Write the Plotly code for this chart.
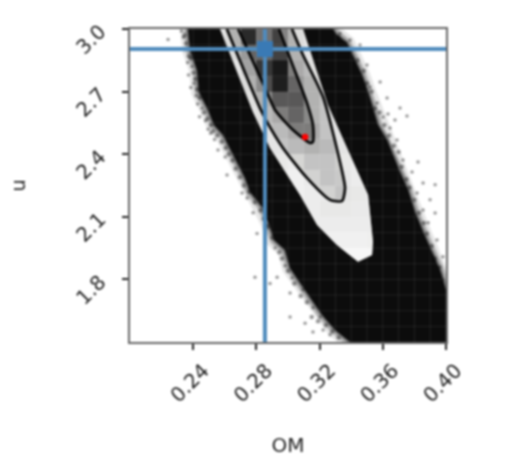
import numpy as np
import plotly.graph_objects as go

# posterior histogram, density per bin, top row first (None = no visible cell)
hist_rows = [
    [None, None, None, None, None, .30, .40, .80, .50, .70, .40, .30, None, None, None, None, None, None, None, None],
    [None, None, None, None, None, .30, .40, .55, .55, .70, .40, .30, None, None, None, None, None, None, None, None],
    [None, None, None, None, None, .30, .30, .50, .75, .87, .45, .35, .30, None, None, None, None, None, None, None],
    [None, None, None, None, None, None, .30, .40, .65, .85, .55, .40, .30, None, None, None, None, None, None, None],
    [None, None, None, None, None, None, .30, .35, .40, .60, .60, .40, .30, .30, None, None, None, None, None, None],
    [None, None, None, None, None, None, None, .30, .35, .45, .55, .40, .30, .30, None, None, None, None, None, None],
    [None, None, None, None, None, None, None, .30, .30, .35, .45, .45, .30, .30, .25, None, None, None, None, None],
    [None, None, None, None, None, None, None, .30, .30, .30, .35, .40, .35, .30, .25, None, None, None, None, None],
    [None, None, None, None, None, None, None, None, .25, .25, .20, .30, .30, .25, .20, None, None, None, None, None],
    [None, None, None, None, None, None, None, None, .20, .20, .15, .22, .30, .27, .20, .20, None, None, None, None],
    [None, None, None, None, None, None, None, None, None, .15, .15, .20, .22, .30, .25, .20, None, None, None, None],
    [None, None, None, None, None, None, None, None, None, None, .20, .20, .25, .25, .22, .22, None, None, None, None],
    [None, None, None, None, None, None, None, None, None, None, .20, .20, .20, .20, .20, .20, None, None, None, None],
    [None, None, None, None, None, None, None, None, None, None, None, .18, .15, .15, .15, .17, None, None, None, None],
    [None, None, None, None, None, None, None, None, None, None, None, None, .10, .08, .08, .08, None, None, None, None],
    [None] * 20, [None] * 20, [None] * 20, [None] * 20, [None] * 20,
]

# contour levels, going down the left side, round the tip and up the right side
outer_om = [.2570, .2778, .2886, .3076, .3184, .3310, .3443, .3532, .3538, .3507, .3374, .3253, .3095]
outer_u = [3.0, 2.602, 2.43, 2.205, 2.061, 1.965, 1.884, 1.917, 1.98, 2.205, 2.43, 2.636, 3.0]
mid_om = [.2613, .2822, .2867, .2968, .3120, .3266, .3342, .3361, .3329, .3222, .3095, .3025]
mid_u = [3.0, 2.622, 2.555, 2.43, 2.286, 2.181, 2.176, 2.238, 2.363, 2.674, 2.875, 3.0]
inner_om = [.2684, .2855, .2918, .3032, .3139, .3158, .3158, .3120, .3029, .2943]
inner_u = [3.0, 2.717, 2.612, 2.516, 2.454, 2.46, 2.54, 2.646, 2.828, 3.0]

# solid part of the sample cloud: left edge, then right edge from the bottom up
left_om = [.2367, .2380, .2424, .2437, .2494, .2532, .2589, .2639, .2684, .2728, .2760,
           .2836, .2874, .2912, .2981, .3013, .3063, .3139, .3215, .3298, .3393]
left_u = [3.0, 2.899, 2.804, 2.698, 2.612, 2.54, 2.492, 2.42, 2.349, 2.286, 2.219,
          2.147, 2.076, 1.989, 1.941, 1.855, 1.798, 1.711, 1.63, 1.558, 1.5]
right_om = [.40, .3962, .3899, .3855, .3804, .3760, .3709, .3665, .3627, .3570, .3538,
            .3507, .3469, .3424, .3374, .3304, .3285]
right_u = [1.75, 1.846, 1.951, 2.028, 2.123, 2.229, 2.315, 2.396, 2.468, 2.54, 2.622,
           2.698, 2.78, 2.852, 2.933, 2.976, 3.0]
corner_om = [.40]
corner_u = [1.5]

# loose samples around the cloud
sample_om = [.2241, .2325, .2338, .2347, .2365, .2392, .2370, .2405, .2385, .2418, .2428, .2455, .2440, .2478,
             .2495, .2510, .2535, .2557, .2602, .2614, .2709, .2741, .2779, .2804, .2791, .2867, .2918, .2931,
             .2886, .2981, .3013, .3013, .3025, .3095, .3108, .3158, .3222, .3158, .3203, .3266,
             .3329, .3393, .3456, .3500, .3519, .3583, .3564, .3627, .3602, .3633, .3709, .3753, .3677, .3646,
             .3690, .3728, .3785, .3823, .3855, .3931, .3855, .3931, .3887, .3943, .3981, .3981, .3975, .3817,
             .3899, .3836, .3962]
sample_u = [2.95, 2.99, 2.96, 2.90, 2.84, 2.82, 2.78, 2.74, 2.72, 2.68, 2.64, 2.62, 2.58, 2.56,
            2.52, 2.50, 2.47, 2.42, 2.387, 2.30, 2.214, 2.19, 2.12, 2.02, 1.81, 2.06, 1.95, 1.81,
            1.78, 1.865, 1.735, 1.62, 1.807, 1.75, 1.59, 1.548, 1.558, 1.664, 1.62, 1.535,
            2.98, 2.947, 2.923, 2.828, 2.722, 2.746, 2.645, 2.669, 2.578, 2.593, 2.622, 2.583, 2.564, 2.526,
            2.468, 2.372, 2.315, 2.363, 2.262, 2.253, 2.133, 2.118, 2.071, 1.989, 1.908, 1.798, 1.62, 2.214,
            2.182, 2.037, 1.86]

# samples crowding the edge of the cloud
edge_om = [.2345, .2355, .2372, .2385, .2402, .2412, .2425, .2440, .2468, .2490, .2512, .2525, .2552, .2580,
           .2605, .2625, .2648, .2668, .2695, .2720, .2755, .2790, .2825, .2845, .2870, .2900, .2945, .2962,
           .3000, .3040, .3080, .3120, .3150, .3190, .3240, .3280, .3320,
           .3320, .3360, .3400, .3440, .3480, .3500, .3530, .3550, .3580, .3610, .3640, .3670, .3700, .3720,
           .3750, .3770, .3800, .3830, .3860, .3880, .3910, .3930, .3960, .3980, .3990]
edge_u = [2.97, 2.93, 2.87, 2.86, 2.79, 2.76, 2.71, 2.67, 2.60, 2.57, 2.54, 2.51, 2.49, 2.46,
          2.43, 2.40, 2.37, 2.33, 2.29, 2.25, 2.22, 2.17, 2.13, 2.09, 2.05, 2.00, 1.93, 1.90,
          1.84, 1.78, 1.72, 1.69, 1.62, 1.60, 1.58, 1.55, 1.52,
          2.96, 2.93, 2.90, 2.85, 2.80, 2.74, 2.70, 2.62, 2.60, 2.54, 2.49, 2.44, 2.41, 2.34,
          2.28, 2.24, 2.18, 2.12, 2.07, 2.02, 1.96, 1.90, 1.82, 1.75, 1.70]

om_true = 0.2854
u_true = 2.904
om_best = 0.3108
u_best = 2.483

om_ticks = [0.24, 0.28, 0.32, 0.36, 0.40]
u_ticks = [1.8, 2.1, 2.4, 2.7, 3.0]

om_range = [0.2, 0.4]
u_range = [1.5, 3.0]

om_edges = np.linspace(om_range[0], om_range[1], 21)
u_edges = np.linspace(u_range[1], u_range[0], 21)
om_centres = (om_edges[:-1] + om_edges[1:]) / 2
u_centres = (u_edges[:-1] + u_edges[1:]) / 2

TRUTH = "#4f8bbd"
TEXT = "#222222"


def ring(outer_x, outer_y, inner_x, inner_y):
    """U shaped strip between two contour levels."""
    return list(outer_x) + list(inner_x)[::-1], list(outer_y) + list(inner_y)[::-1]


fig = go.Figure()
fig.add_heatmap(
    x=om_centres, y=u_centres, z=hist_rows,
    colorscale="gray_r", zmin=0, zmax=1, showscale=False, hoverongaps=False,
)
fig.add_scatter(
    x=sample_om, y=sample_u, mode="markers",
    marker=dict(color="rgba(0,0,0,0.4)", size=3.5, line_width=0),
)
fig.add_scatter(
    x=edge_om, y=edge_u, mode="markers",
    marker=dict(color="rgba(0,0,0,0.4)", size=4.5, line_width=0),
)

# soft rim on both long sides of the cloud
for rim_x, rim_y in [(left_om, left_u), (right_om, right_u)]:
    for rim_width, rim_alpha in [(16, 0.10), (9, 0.22), (4, 0.35)]:
        fig.add_scatter(x=rim_x, y=rim_y, mode="lines",
                        line=dict(color=f"rgba(0,0,0,{rim_alpha})", width=rim_width))

# cloud with the notch of the light region cut out of it
cloud_x = left_om + corner_om + right_om + outer_om[::-1]
cloud_y = left_u + corner_u + right_u + outer_u[::-1]
fig.add_scatter(x=cloud_x, y=cloud_y, mode="lines", fill="toself",
                fillcolor="#0c0c0c", line=dict(color="#0c0c0c", width=0))

strip_x, strip_y = ring(outer_om, outer_u, mid_om, mid_u)
fig.add_scatter(x=strip_x, y=strip_y, mode="lines", fill="toself",
                fillcolor="rgba(255,255,255,0.7)", line=dict(width=0))
strip_x, strip_y = ring(mid_om, mid_u, inner_om, inner_u)
fig.add_scatter(x=strip_x, y=strip_y, mode="lines", fill="toself",
                fillcolor="rgba(255,255,255,0.35)", line=dict(width=0))

# faint bin edges
grid_x, grid_y = [], []
for e in om_edges:
    grid_x += [e, e, None]
    grid_y += [u_range[0], u_range[1], None]
for e in u_edges:
    grid_x += [om_range[0], om_range[1], None]
    grid_y += [e, e, None]
fig.add_scatter(x=grid_x, y=grid_y, mode="lines",
                line=dict(color="rgba(255,255,255,0.09)", width=1))

for cx, cy in [(mid_om, mid_u), (inner_om, inner_u)]:
    fig.add_scatter(x=cx, y=cy, mode="lines",
                    line=dict(color="#000000", width=2.6, shape="spline", smoothing=0.6))

fig.add_scatter(x=[om_true, om_true], y=u_range, mode="lines", line=dict(color=TRUTH, width=4))
fig.add_scatter(x=om_range, y=[u_true, u_true], mode="lines", line=dict(color=TRUTH, width=4))
fig.add_scatter(x=[om_true], y=[u_true], mode="markers",
                marker=dict(color="#3a7ab5", size=16, symbol="square", line_width=0))
fig.add_scatter(x=[om_best], y=[u_best], mode="markers",
                marker=dict(color="#ff0000", size=6.5, line_width=0))

axis_style = dict(
    showgrid=False, zeroline=False, showline=True, mirror=True,
    linecolor="#666666", linewidth=2,
    ticks="outside", ticklen=6, tickwidth=1.5, tickcolor="#222222",
    tickangle=-45, tickfont=dict(family="DejaVu Sans", size=20, color=TEXT),
)
fig.update_xaxes(range=om_range, tickvals=om_ticks, ticktext=[f"{t:.2f}" for t in om_ticks],
                 ticklabelstandoff=1, ticklabelshift=10,
                 title=dict(text="OM", standoff=32, font=dict(family="DejaVu Sans", size=20, color=TEXT)),
                 **axis_style)
fig.update_yaxes(range=u_range, tickvals=u_ticks, ticktext=[f"{t:.1f}" for t in u_ticks],
                 ticklabelstandoff=18,
                 title=dict(text="u", standoff=40, font=dict(family="DejaVu Sans", size=20, color=TEXT)),
                 **axis_style)
fig.update_layout(
    width=517, height=461, showlegend=False,
    margin=dict(l=130, r=71, t=29, b=119, autoexpand=False),
    paper_bgcolor="white", plot_bgcolor="white",
)

# the reference is a soft, upscaled raster; also drop the page margin
page = "document.body.style.margin = '0'; document.querySelector('.plotly-graph-div').style.filter = 'blur(0.9px)';"
fig.write_html("out.html", post_script=page, config=dict(displayModeBar=False))
